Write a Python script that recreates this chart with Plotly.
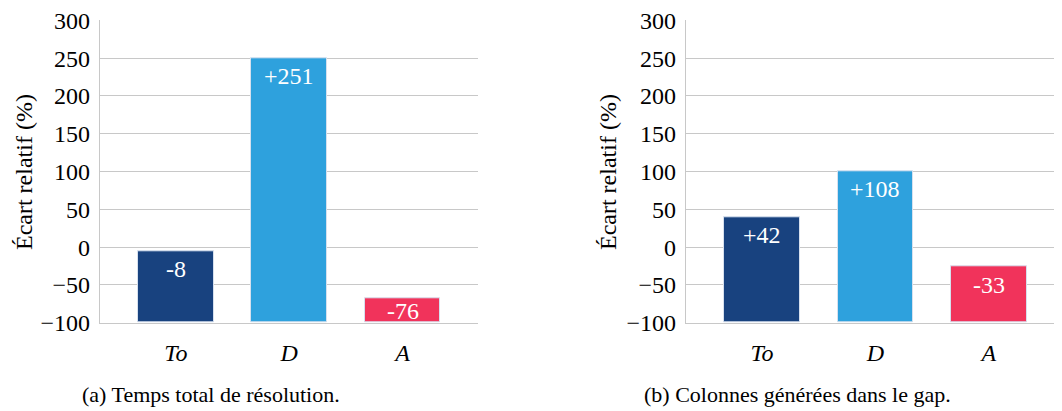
import plotly.graph_objects as go

# Données (hauteur des barres) et étiquettes affichées
CATEGORIES = ["To", "D", "A"]
TEMPS_VALEURS = [-5, 250, -68]
TEMPS_LABELS = ["-8", "+251", "-76"]
COLONNES_VALEURS = [40, 100, -26]
COLONNES_LABELS = ["+42", "+108", "-33"]
Y_TICKS = [-100, -50, 0, 50, 100, 150, 200, 250, 300]

CAPTION_A = "(a) Temps total de résolution."
CAPTION_B = "(b) Colonnes générées dans le gap."
Y_TITLE = "Écart relatif (%)"

COLORS = ["#18427F", "#2EA1DD", "#F1335B"]
COLOR_GRID = "#C8C8C8"
# les grandes tailles retombent sur une sans-serif ici, on reste plus petit
FONT = "Liberation Serif"
SIZE = 24

# la page ajoute une marge de 8 px autour de la figure
OFF = 8
W, H = 1062 - OFF, 411 - OFF
BASE = -100
Y_MIN, Y_MAX = -100, 300
PLOT_TOP, PLOT_BOTTOM = 20.3 - OFF, 322.7 - OFF
PX_PER_UNIT = (PLOT_BOTTOM - PLOT_TOP) / (Y_MAX - Y_MIN)

y_dom = [(H - PLOT_BOTTOM) / H, (H - PLOT_TOP) / H]
panels = [
    {"vals": TEMPS_VALEURS, "labels": TEMPS_LABELS, "dom": [(100 - OFF) / W, (478 - OFF) / W],
     "xr": [-0.67, 2.665], "caption": CAPTION_A, "cap_x": 211 - OFF, "title_x": 24 - OFF},
    {"vals": COLONNES_VALEURS, "labels": COLONNES_LABELS, "dom": [(686 - OFF) / W, 1.0],
     "xr": [-0.67, 2.645], "caption": CAPTION_B, "cap_x": 797 - OFF, "title_x": 608 - OFF},
]

fig = go.Figure()
annotations = []
for i, p in enumerate(panels, start=1):
    xa = "x" if i == 1 else f"x{i}"
    ya = "y" if i == 1 else f"y{i}"
    xs = list(range(len(CATEGORIES)))
    fig.add_trace(
        go.Bar(
            x=xs,
            y=[v - BASE for v in p["vals"]],
            base=BASE,
            width=0.667,
            marker={"color": COLORS, "line": {"color": "#D6E0EE", "width": 1}},
            xaxis=xa,
            yaxis=ya,
            showlegend=False,
        )
    )
    for x, v, lab in zip(xs, p["vals"], p["labels"]):
        shift = min(18, (v - BASE) * PX_PER_UNIT / 2)
        annotations.append(
            dict(x=x, y=v, xref=xa, yref=ya, text=lab, showarrow=False,
                 yshift=-shift, yanchor="middle",
                 font={"family": FONT, "size": SIZE, "color": "white"})
        )
    annotations.append(
        dict(x=p["cap_x"] / W, y=(H - (394 - OFF)) / H, xref="paper", yref="paper",
             text=p["caption"], showarrow=False, xanchor="center", yanchor="middle",
             font={"family": FONT, "size": 22, "color": "black"})
    )
    annotations.append(
        dict(x=p["title_x"] / W, y=(H - (172 - OFF)) / H, xref="paper", yref="paper",
             text=Y_TITLE, showarrow=False, textangle=-90,
             xanchor="center", yanchor="middle",
             font={"family": FONT, "size": SIZE, "color": "black"})
    )
    fig.update_layout(**{
        ("xaxis" if i == 1 else f"xaxis{i}"): dict(
            domain=p["dom"], range=p["xr"], tickvals=xs,
            ticktext=[f"<i>{c}</i>" for c in CATEGORIES],
            showgrid=False, zeroline=False, showline=True, linecolor=COLOR_GRID,
            linewidth=1.3, ticks="", ticklabelstandoff=8, anchor=ya,
            automargin=False,
            tickfont={"family": FONT, "size": SIZE, "color": "black"},
        ),
        ("yaxis" if i == 1 else f"yaxis{i}"): dict(
            domain=y_dom, range=[Y_MIN, Y_MAX], tickvals=Y_TICKS,
            showgrid=True, gridcolor=COLOR_GRID, gridwidth=1.3, zeroline=False,
            showline=True, linecolor=COLOR_GRID, linewidth=1.3, ticks="",
            ticklabelstandoff=4, anchor=xa, automargin=False,
            ticklabeloverflow="allow",
            tickfont={"family": FONT, "size": SIZE, "color": "black"},
        ),
    })

fig.update_layout(
    width=W,
    height=H,
    font={"family": FONT, "color": "black"},
    margin={"l": 0, "r": 0, "t": 0, "b": 0, "autoexpand": False},
    paper_bgcolor="white",
    plot_bgcolor="white",
    annotations=annotations,
    bargap=0,
)

fig.write_html("out.html")
